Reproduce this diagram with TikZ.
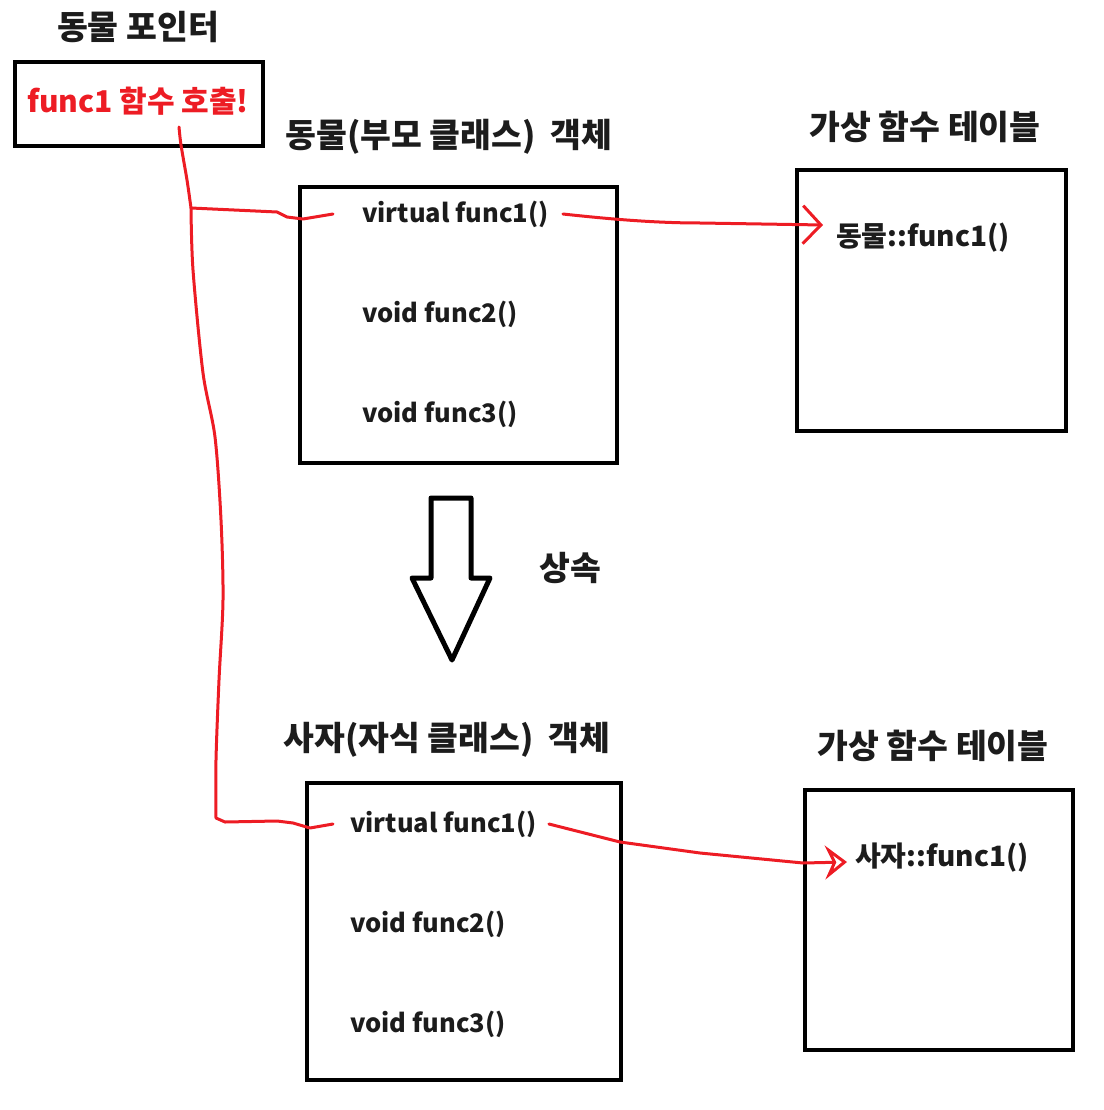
\documentclass[tikz,border=0pt]{standalone}
\usepackage{fontspec}
\setmainfont{Noto Sans CJK KR}
\usetikzlibrary{arrows.meta}
\definecolor{penred}{RGB}{237,28,36}
\definecolor{ink}{RGB}{28,28,28}

\begin{document}
\begin{tikzpicture}[x=1pt,y=-1pt,
    box/.style={draw,line width=4.5pt,inner sep=0pt},
    title/.style={font=\fontsize{33.5}{38}\selectfont\bfseries,text=ink,inner sep=0pt},
    member/.style={font=\fontsize{25.5}{30}\selectfont\bfseries,text=ink,anchor=west,inner sep=0pt},
    pen/.style={draw=penred,line width=3pt,line cap=round,line join=round}]
  \useasboundingbox (0,0) rectangle (1103,1110);
  % pointer
  \node[title] (ptrtitle) at (138,27) {동물 포인터};
  \node[box,minimum width=248pt,minimum height=84pt] (ptr) at (139,104) {};
  \node[member,anchor=center,text=penred,font=\fontsize{30}{34}\selectfont\bfseries] (call) at (138,101) {func1 함수 호출!};
  % parent object
  \node[title] (parenttitle) at (449,137) {동물(부모 클래스)\ \ 객체};
  \node[box,minimum width=317pt,minimum height=276pt] (parent) at (458.5,325) {};
  \node[member] (pf1) at (362,214) {virtual func1()};
  \node[member] (pf2) at (362,314) {void func2()};
  \node[member] (pf3) at (362,414) {void func3()};
  \node[title] (vt1title) at (925,127) {가상 함수 테이블};
  \node[box,minimum width=269pt,minimum height=261pt] (vt1) at (931.5,300.5) {};
  \node[member,font=\fontsize{28}{32}\selectfont\bfseries] (vt1f1) at (836,238) {동물::func1()};
  % inheritance
  \draw[line width=5pt,line join=round] (431,498) -- (471,498) -- (471,578) -- (490,578)
    -- (452,660) -- (412,578) -- (431,578) -- cycle;
  \node[title] (inherit) at (570,568) {상속};
  % child object
  \node[title] (childtitle) at (447,740) {사자(자식 클래스)\ \ 객체};
  \node[box,minimum width=314pt,minimum height=297pt] (child) at (464,931.5) {};
  \node[member] (cf1) at (350,824) {virtual func1()};
  \node[member] (cf2) at (350,924) {void func2()};
  \node[member] (cf3) at (350,1024) {void func3()};
  \node[title] (vt2title) at (933,746) {가상 함수 테이블};
  \node[box,minimum width=268pt,minimum height=260pt] (vt2) at (939,920) {};
  \node[member,font=\fontsize{28}{32}\selectfont\bfseries] (vt2f1) at (855,858) {사자::func1()};
  % red pen strokes
  \coordinate (tap) at (179,127);
  \coordinate (fork) at (191,208);
  \draw[pen] plot[smooth,tension=.5] coordinates {(tap) (181,145) (187,180) (fork)};
  \draw[pen] plot[smooth,tension=.5] coordinates {(fork) (193,270) (203,373) (215,437)
    (221,520) (223,600) (219,680) (216,760) (216,818)}
    -- (225,822) -- (277,821) -- (293,823) -- (310,828) -- ([xshift=-17pt]cf1.west);
  \draw[pen] (fork) -- (277,212) -- (287,217) -- (303,219) -- ([xshift=-29pt]pf1.west);
  \draw[pen,-{Straight Barb[length=18pt,width=38pt,line width=3pt]}]
    ([xshift=14pt]pf1.east) .. controls (600,218) and (650,223) .. (700,223)
    -- ([xshift=-13pt,yshift=13pt]vt1f1.west);
  \draw[pen,-{Stealth[open,length=22pt,width=34pt,inset=8pt,line width=3pt]}]
    ([xshift=12pt]cf1.east) -- (620,842) -- (700,853) -- (803,863) -- ([xshift=-8pt,yshift=-4pt]vt2f1.west);
\end{tikzpicture}
\end{document}
